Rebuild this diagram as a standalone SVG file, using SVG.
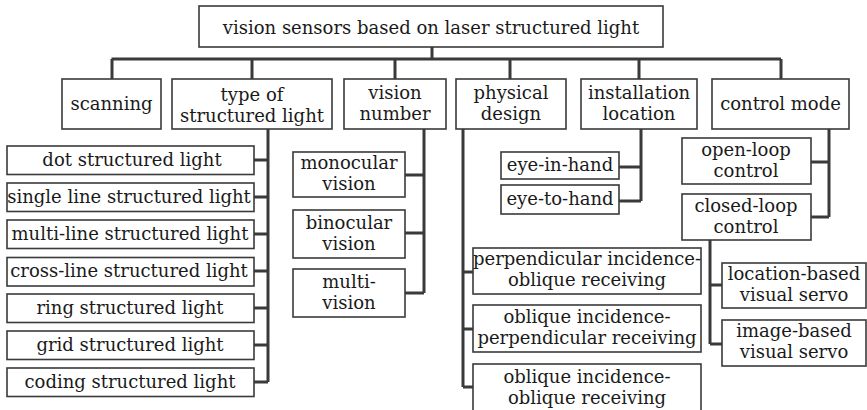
<svg xmlns="http://www.w3.org/2000/svg" width="867" height="410" viewBox="0 0 867 410">
<style>
.b{fill:#fff;stroke:#3a3a3a;stroke-width:1.6}
.t{font-family:"DejaVu Serif","Liberation Serif",serif;font-size:18px;fill:#1a1a1a;text-anchor:middle}
.c{fill:none;stroke:#3a3a3a;stroke-width:3;stroke-linecap:butt;stroke-linejoin:miter}
</style>
<rect width="867" height="410" fill="#fff"/>
<g id="connectors">
<path class="c" d="M432 47V59M111.5 59H781M112 59V79M252 59V79M395 59V79M510 59V79M639 59V79M781 59V79"/>
<path class="c" d="M268 129V382M254 160H268M254 197H268M254 234H268M254 271H268M254 308H268M254 345H268M254 382H268"/>
<path class="c" d="M424 129V293M405 175H424M405 233H424M405 293H424"/>
<path class="c" d="M463 129V387M463 272H473M463 329H473M463 387H473"/>
<path class="c" d="M641 129V201M619 167H641M619 201H641"/>
<path class="c" d="M829 129V217M811 162H829M811 217H829"/>
<path class="c" d="M710 240V344M710 285H722M710 344H722"/>
</g>
<g id="root"><rect class="b" x="199" y="6" width="464" height="41"/><text class="t" x="431" y="34">vision sensors based on laser structured light</text></g>
<g id="scanning"><rect class="b" x="62" y="79" width="99" height="50"/><text class="t" x="111.5" y="110">scanning</text></g>
<g id="type"><rect class="b" x="172" y="79" width="160" height="50"/><text class="t" x="252" y="101">type of</text><text class="t" x="252" y="122">structured light</text></g>
<g id="vision"><rect class="b" x="344" y="79" width="102" height="50"/><text class="t" x="395" y="99">vision</text><text class="t" x="395" y="120">number</text></g>
<g id="physical"><rect class="b" x="456" y="79" width="110" height="50"/><text class="t" x="511" y="99">physical</text><text class="t" x="511" y="120">design</text></g>
<g id="installation"><rect class="b" x="581" y="79" width="116" height="50"/><text class="t" x="639" y="99">installation</text><text class="t" x="639" y="120">location</text></g>
<g id="control"><rect class="b" x="712" y="79" width="137" height="50"/><text class="t" x="780.5" y="110">control mode</text></g>
<g id="dot"><rect class="b" x="7" y="146" width="247" height="28.5"/><text class="t" x="132" y="166">dot structured light</text></g>
<g id="single"><rect class="b" x="7" y="183" width="247" height="28.5"/><text class="t" x="129" y="203">single line structured light</text></g>
<g id="multiline"><rect class="b" x="7" y="220" width="247" height="28.5"/><text class="t" x="130" y="240">multi-line structured light</text></g>
<g id="cross"><rect class="b" x="7" y="257.5" width="247" height="28.5"/><text class="t" x="129" y="277">cross-line structured light</text></g>
<g id="ring"><rect class="b" x="7" y="294" width="247" height="28.5"/><text class="t" x="130" y="314">ring structured light</text></g>
<g id="grid"><rect class="b" x="7" y="331" width="247" height="28.5"/><text class="t" x="130" y="351">grid structured light</text></g>
<g id="coding"><rect class="b" x="7" y="368" width="247" height="28.5"/><text class="t" x="130" y="388">coding structured light</text></g>
<g id="monocular"><rect class="b" x="293" y="152" width="112" height="45"/><text class="t" x="349" y="169">monocular</text><text class="t" x="349" y="190">vision</text></g>
<g id="binocular"><rect class="b" x="293" y="210" width="112" height="48"/><text class="t" x="349" y="229">binocular</text><text class="t" x="349" y="250">vision</text></g>
<g id="multivision"><rect class="b" x="293" y="269" width="112" height="48"/><text class="t" x="349" y="288">multi-</text><text class="t" x="349" y="309">vision</text></g>
<g id="perp-obl"><rect class="b" x="473" y="248" width="228" height="46"/><text class="t" x="587" y="265">perpendicular incidence-</text><text class="t" x="587" y="286">oblique receiving</text></g>
<g id="obl-perp"><rect class="b" x="473" y="305" width="228" height="47"/><text class="t" x="587" y="323">oblique incidence-</text><text class="t" x="587" y="344">perpendicular receiving</text></g>
<g id="obl-obl"><rect class="b" x="473" y="364" width="228" height="52"/><text class="t" x="587" y="383">oblique incidence-</text><text class="t" x="587" y="404">oblique receiving</text></g>
<g id="eyeinhand"><rect class="b" x="501" y="152" width="118" height="27"/><text class="t" x="560" y="171">eye-in-hand</text></g>
<g id="eyetohand"><rect class="b" x="501" y="185" width="118" height="29"/><text class="t" x="560" y="205">eye-to-hand</text></g>
<g id="openloop"><rect class="b" x="682" y="138" width="129" height="46"/><text class="t" x="746" y="156">open-loop</text><text class="t" x="746" y="177">control</text></g>
<g id="closedloop"><rect class="b" x="682" y="194" width="129" height="46"/><text class="t" x="746" y="212">closed-loop</text><text class="t" x="746" y="233">control</text></g>
<g id="locationbased"><rect class="b" x="722" y="263" width="144" height="45"/><text class="t" x="794" y="280">location-based</text><text class="t" x="794" y="301">visual servo</text></g>
<g id="imagebased"><rect class="b" x="722" y="320" width="144" height="46"/><text class="t" x="794" y="337">image-based</text><text class="t" x="794" y="358">visual servo</text></g>
</svg>
